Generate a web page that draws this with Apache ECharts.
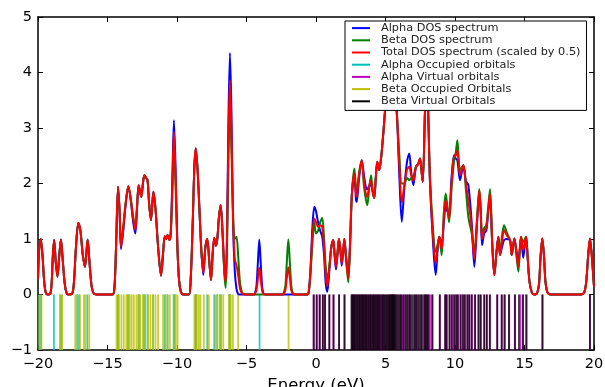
<!DOCTYPE html>
<html><head><meta charset="utf-8">
<script src="https://cdn.jsdelivr.net/npm/echarts@6/dist/echarts.min.js"></script>
<style>html,body{margin:0;padding:0;background:#fff}#c{width:605px;height:387px}</style>
</head><body><div id="c"></div><script>
const xTicks = [-20, -15, -10, -5, 0, 5, 10, 15, 20];
const yTicks = [-1, 0, 1, 2, 3, 4, 5];
const xLabel = 'Energy (eV)';
const seriesNames = ['Alpha DOS spectrum', 'Beta DOS spectrum', 'Total DOS spectrum (scaled by 0.5)',
  'Alpha Occupied orbitals', 'Alpha Virtual orbitals', 'Beta Occupied Orbitals', 'Beta Virtual Orbitals'];

const totalDOS = [[-20.0,0.28],[-19.92,0.8],[-19.8,1.0],[-19.68,0.72],[-19.56,0.25],[-19.45,0.04],[-19.3,0.0],[-19.12,0.01],[-19.02,0.2],[-18.93,0.7],[-18.84,0.98],[-18.72,0.58],[-18.6,0.32],[-18.47,0.7],[-18.35,0.99],[-18.22,0.62],[-18.08,0.2],[-17.95,0.03],[-17.8,0.0],[-17.55,0.01],[-17.42,0.2],[-17.27,0.85],[-17.1,1.29],[-16.95,1.15],[-16.78,0.72],[-16.62,0.5],[-16.43,0.99],[-16.3,0.6],[-16.15,0.16],[-16.0,0.02],[-15.8,0.0],[-14.65,0.0],[-14.5,0.12],[-14.38,0.9],[-14.24,1.94],[-14.13,1.5],[-14.03,0.86],[-13.88,1.15],[-13.7,1.62],[-13.5,1.95],[-13.33,1.72],[-13.15,1.35],[-13.0,1.16],[-12.88,1.55],[-12.76,1.97],[-12.66,1.85],[-12.57,1.76],[-12.45,2.0],[-12.35,2.15],[-12.22,2.1],[-12.12,2.06],[-12.0,1.62],[-11.87,1.34],[-11.7,1.85],[-11.55,1.55],[-11.35,0.82],[-11.15,0.34],[-11.0,0.75],[-10.88,1.05],[-10.78,1.0],[-10.68,1.07],[-10.55,0.98],[-10.45,1.1],[-10.33,2.0],[-10.22,2.93],[-10.1,2.1],[-9.97,0.85],[-9.85,0.25],[-9.73,0.06],[-9.55,0.0],[-9.15,0.0],[-9.02,0.25],[-8.88,1.2],[-8.75,2.3],[-8.65,2.63],[-8.52,2.25],[-8.38,1.5],[-8.25,0.8],[-8.11,0.39],[-7.96,0.85],[-7.82,1.0],[-7.68,0.6],[-7.55,0.26],[-7.43,0.75],[-7.32,1.02],[-7.2,0.88],[-7.1,1.0],[-6.98,1.4],[-6.86,1.61],[-6.74,1.2],[-6.6,0.45],[-6.5,0.22],[-6.4,1.0],[-6.3,2.8],[-6.19,3.86],[-6.08,2.9],[-5.97,1.4],[-5.85,0.65],[-5.72,0.52],[-5.6,0.35],[-5.48,0.12],[-5.35,0.03],[-5.2,0.0],[-4.45,0.0],[-4.36,0.03],[-4.28,0.08],[-4.18,0.28],[-4.08,0.48],[-3.98,0.28],[-3.88,0.08],[-3.78,0.01],[-3.6,0.0],[-2.4,0.0],[-2.3,0.02],[-2.2,0.08],[-2.1,0.3],[-1.99,0.49],[-1.88,0.3],[-1.78,0.08],[-1.68,0.02],[-1.55,0.0],[-0.62,0.0],[-0.52,0.05],[-0.4,0.4],[-0.25,1.1],[-0.12,1.37],[0.0,1.3],[0.15,1.22],[0.3,1.25],[0.45,1.22],[0.58,0.85],[0.7,0.35],[0.81,0.15],[0.95,0.45],[1.1,0.85],[1.24,0.98],[1.34,0.72],[1.44,0.5],[1.55,0.75],[1.65,1.0],[1.75,0.82],[1.85,0.56],[1.95,0.75],[2.04,1.0],[2.15,0.7],[2.32,0.29],[2.45,0.9],[2.58,1.8],[2.76,2.18],[2.88,1.8],[2.93,1.76],[3.1,2.15],[3.29,2.42],[3.45,2.05],[3.6,1.8],[3.69,1.76],[3.82,1.95],[3.96,2.06],[4.08,1.85],[4.19,1.74],[4.3,2.1],[4.41,2.39],[4.55,2.24],[4.7,2.5],[4.84,2.9],[5.09,3.68],[5.4,4.3],[5.6,3.9],[5.81,3.29],[6.0,2.3],[6.17,1.66],[6.35,1.95],[6.55,2.25],[6.71,2.3],[6.85,2.15],[7.0,2.05],[7.19,2.3],[7.35,2.35],[7.48,2.45],[7.6,2.2],[7.68,2.03],[7.84,3.29],[7.95,4.1],[8.08,3.2],[8.2,2.06],[8.44,0.98],[8.61,0.56],[8.75,0.85],[8.87,1.04],[9.04,0.82],[9.2,1.4],[9.33,1.7],[9.45,1.55],[9.57,1.37],[9.75,2.0],[9.93,2.5],[10.05,2.5],[10.17,2.6],[10.36,2.15],[10.6,2.33],[10.78,2.0],[10.96,1.7],[11.2,1.2],[11.39,0.64],[11.58,1.3],[11.75,1.88],[11.85,1.5],[11.95,1.0],[12.1,1.15],[12.25,1.2],[12.38,1.5],[12.52,1.82],[12.68,0.9],[12.83,0.35],[12.98,0.75],[13.12,1.04],[13.24,0.71],[13.38,0.95],[13.53,1.16],[13.72,1.07],[13.96,0.98],[14.08,0.71],[14.27,1.01],[14.42,0.75],[14.56,0.5],[14.75,1.04],[14.91,0.8],[15.11,1.04],[15.22,0.7],[15.35,0.25],[15.52,0.04],[15.7,0.0],[15.85,0.01],[15.95,0.06],[16.05,0.2],[16.16,0.7],[16.28,1.01],[16.4,0.7],[16.5,0.25],[16.62,0.06],[16.75,0.01],[16.9,0.0],[19.1,0.0],[19.25,0.02],[19.35,0.08],[19.45,0.25],[19.58,0.7],[19.71,1.01],[19.84,0.7],[20.0,0.14]];

const alphaDOS = [[-20.0,0.28],[-19.92,0.8],[-19.8,1.0],[-19.68,0.72],[-19.56,0.25],[-19.45,0.04],[-19.3,0.0],[-19.12,0.01],[-19.02,0.2],[-18.93,0.7],[-18.84,0.98],[-18.72,0.58],[-18.6,0.32],[-18.47,0.7],[-18.35,0.99],[-18.22,0.62],[-18.08,0.2],[-17.95,0.03],[-17.8,0.0],[-17.55,0.01],[-17.42,0.2],[-17.27,0.85],[-17.1,1.29],[-16.95,1.15],[-16.78,0.72],[-16.62,0.5],[-16.43,0.99],[-16.3,0.6],[-16.15,0.16],[-16.0,0.02],[-15.8,0.0],[-14.65,0.0],[-14.5,0.12],[-14.38,0.9],[-14.24,1.94],[-14.13,1.48],[-14.03,0.82],[-13.88,1.12],[-13.7,1.6],[-13.5,1.95],[-13.33,1.7],[-13.15,1.3],[-13.0,1.1],[-12.88,1.52],[-12.76,1.97],[-12.66,1.85],[-12.57,1.76],[-12.45,2.0],[-12.35,2.15],[-12.22,2.1],[-12.12,2.06],[-12.0,1.62],[-11.87,1.34],[-11.7,1.85],[-11.55,1.55],[-11.35,0.82],[-11.15,0.34],[-11.0,0.75],[-10.88,1.05],[-10.78,1.0],[-10.68,1.07],[-10.55,0.98],[-10.45,1.12],[-10.33,2.15],[-10.22,3.14],[-10.1,2.25],[-9.97,0.88],[-9.85,0.25],[-9.73,0.06],[-9.55,0.0],[-9.15,0.0],[-9.02,0.25],[-8.88,1.2],[-8.75,2.3],[-8.65,2.63],[-8.52,2.25],[-8.38,1.5],[-8.25,0.78],[-8.11,0.35],[-7.96,0.85],[-7.82,1.0],[-7.68,0.6],[-7.55,0.26],[-7.43,0.75],[-7.32,1.02],[-7.2,0.88],[-7.1,1.0],[-6.98,1.4],[-6.86,1.61],[-6.74,1.22],[-6.6,0.5],[-6.5,0.28],[-6.4,1.15],[-6.3,3.15],[-6.19,4.35],[-6.08,3.25],[-5.97,1.3],[-5.85,0.45],[-5.72,0.1],[-5.6,0.01],[-5.48,0.0],[-5.35,0.0],[-5.2,0.0],[-4.45,0.0],[-4.36,0.05],[-4.28,0.16],[-4.18,0.58],[-4.08,0.99],[-3.98,0.58],[-3.88,0.16],[-3.78,0.02],[-3.6,0.0],[-2.4,0.0],[-1.55,0.0],[-0.62,0.0],[-0.52,0.06],[-0.4,0.45],[-0.25,1.25],[-0.12,1.58],[0.0,1.5],[0.15,1.3],[0.3,1.15],[0.45,1.04],[0.58,0.7],[0.7,0.2],[0.81,0.05],[0.95,0.4],[1.1,0.85],[1.24,0.98],[1.34,0.7],[1.44,0.45],[1.55,0.72],[1.65,1.0],[1.75,0.8],[1.85,0.52],[1.95,0.75],[2.04,1.0],[2.15,0.72],[2.32,0.35],[2.45,0.95],[2.58,1.8],[2.76,2.12],[2.88,1.7],[2.93,1.67],[3.1,2.1],[3.29,2.42],[3.45,2.15],[3.6,1.92],[3.69,1.9],[3.82,1.95],[3.96,1.97],[4.08,1.85],[4.19,1.74],[4.3,2.1],[4.41,2.39],[4.55,2.24],[4.7,2.5],[4.84,2.9],[5.09,3.68],[5.4,4.3],[5.6,3.9],[5.81,3.29],[6.0,2.1],[6.17,1.31],[6.35,1.9],[6.55,2.4],[6.71,2.54],[6.85,2.2],[7.0,1.97],[7.19,2.3],[7.35,2.35],[7.48,2.45],[7.6,2.2],[7.68,2.03],[7.84,3.29],[7.95,4.1],[8.08,3.2],[8.2,2.0],[8.44,0.85],[8.61,0.35],[8.75,0.8],[8.87,1.04],[9.04,0.93],[9.2,1.3],[9.33,1.58],[9.45,1.5],[9.57,1.45],[9.75,2.1],[9.93,2.51],[10.05,2.45],[10.17,2.42],[10.36,2.06],[10.6,2.33],[10.78,2.05],[10.96,1.97],[11.2,1.3],[11.39,0.5],[11.58,1.25],[11.75,1.85],[11.85,1.45],[11.95,0.89],[12.1,1.1],[12.25,1.15],[12.38,1.45],[12.52,1.75],[12.68,0.9],[12.83,0.35],[12.98,0.75],[13.12,1.04],[13.24,0.71],[13.38,0.85],[13.53,0.98],[13.72,1.0],[13.96,0.98],[14.08,0.71],[14.27,1.01],[14.42,0.8],[14.56,0.6],[14.75,1.04],[14.91,0.66],[15.11,1.04],[15.22,0.7],[15.35,0.25],[15.52,0.04],[15.7,0.0],[15.85,0.01],[15.95,0.06],[16.05,0.2],[16.16,0.7],[16.28,1.01],[16.4,0.7],[16.5,0.25],[16.62,0.06],[16.75,0.01],[16.9,0.0],[19.1,0.0],[19.25,0.02],[19.35,0.08],[19.45,0.25],[19.58,0.7],[19.71,1.01],[19.84,0.7],[20.0,0.14]];

const betaDOS = [[-20.0,0.28],[-19.92,0.8],[-19.8,1.0],[-19.68,0.72],[-19.56,0.25],[-19.45,0.04],[-19.3,0.0],[-19.12,0.01],[-19.02,0.2],[-18.93,0.7],[-18.84,0.98],[-18.72,0.58],[-18.6,0.32],[-18.47,0.7],[-18.35,0.99],[-18.22,0.62],[-18.08,0.2],[-17.95,0.03],[-17.8,0.0],[-17.55,0.01],[-17.42,0.2],[-17.27,0.85],[-17.1,1.29],[-16.95,1.15],[-16.78,0.72],[-16.62,0.5],[-16.43,0.99],[-16.3,0.6],[-16.15,0.16],[-16.0,0.02],[-15.8,0.0],[-14.65,0.0],[-14.5,0.12],[-14.38,0.9],[-14.24,1.94],[-14.13,1.52],[-14.03,0.9],[-13.88,1.18],[-13.7,1.64],[-13.5,1.95],[-13.33,1.74],[-13.15,1.4],[-13.0,1.22],[-12.88,1.58],[-12.76,1.97],[-12.66,1.85],[-12.57,1.76],[-12.45,2.0],[-12.35,2.15],[-12.22,2.1],[-12.12,2.06],[-12.0,1.62],[-11.87,1.34],[-11.7,1.85],[-11.55,1.55],[-11.35,0.82],[-11.15,0.34],[-11.0,0.75],[-10.88,1.05],[-10.78,1.0],[-10.68,1.07],[-10.55,0.98],[-10.45,1.08],[-10.33,1.85],[-10.22,2.72],[-10.1,1.95],[-9.97,0.82],[-9.85,0.25],[-9.73,0.06],[-9.55,0.0],[-9.15,0.0],[-9.02,0.25],[-8.88,1.2],[-8.75,2.3],[-8.65,2.63],[-8.52,2.25],[-8.38,1.5],[-8.25,0.82],[-8.11,0.43],[-7.96,0.85],[-7.82,1.0],[-7.68,0.6],[-7.55,0.26],[-7.43,0.75],[-7.32,1.02],[-7.2,0.88],[-7.1,1.0],[-6.98,1.4],[-6.86,1.61],[-6.74,1.18],[-6.6,0.4],[-6.5,0.12],[-6.4,0.85],[-6.3,2.45],[-6.19,3.37],[-6.08,2.55],[-5.97,1.5],[-5.85,1.0],[-5.72,1.04],[-5.6,0.7],[-5.48,0.25],[-5.35,0.06],[-5.2,0.01],[-4.45,0.0],[-3.6,0.0],[-2.4,0.0],[-2.3,0.05],[-2.2,0.16],[-2.1,0.58],[-1.99,0.99],[-1.88,0.58],[-1.78,0.16],[-1.68,0.03],[-1.55,0.0],[-0.62,0.0],[-0.52,0.04],[-0.4,0.35],[-0.25,0.95],[-0.12,1.29],[0.0,1.1],[0.15,1.15],[0.3,1.3],[0.45,1.38],[0.58,1.0],[0.7,0.5],[0.81,0.25],[0.95,0.5],[1.1,0.85],[1.24,0.98],[1.34,0.74],[1.44,0.55],[1.55,0.78],[1.65,1.0],[1.75,0.84],[1.85,0.6],[1.95,0.75],[2.04,1.0],[2.15,0.68],[2.32,0.22],[2.45,0.85],[2.58,1.8],[2.76,2.27],[2.88,1.9],[2.93,1.85],[3.1,2.2],[3.29,2.42],[3.45,1.95],[3.6,1.7],[3.69,1.61],[3.82,1.9],[3.96,2.15],[4.08,1.85],[4.19,1.74],[4.3,2.1],[4.41,2.39],[4.55,2.24],[4.7,2.5],[4.84,2.9],[5.09,3.68],[5.4,4.3],[5.6,3.9],[5.81,3.29],[6.0,2.5],[6.17,2.0],[6.35,2.0],[6.55,2.1],[6.71,2.06],[6.85,2.1],[7.0,2.13],[7.19,2.3],[7.35,2.35],[7.48,2.45],[7.6,2.2],[7.68,2.03],[7.84,3.29],[7.95,4.1],[8.08,3.2],[8.2,2.12],[8.44,1.1],[8.61,0.77],[8.75,0.9],[8.87,1.04],[9.04,0.71],[9.2,1.5],[9.33,1.82],[9.45,1.6],[9.57,1.3],[9.75,1.9],[9.93,2.4],[10.05,2.55],[10.17,2.78],[10.36,2.24],[10.6,2.33],[10.78,1.9],[10.96,1.4],[11.2,1.1],[11.39,0.78],[11.58,1.35],[11.75,1.9],[11.85,1.55],[11.95,1.1],[12.1,1.2],[12.25,1.25],[12.38,1.55],[12.52,1.9],[12.68,0.9],[12.83,0.35],[12.98,0.75],[13.12,1.04],[13.24,0.71],[13.38,1.05],[13.53,1.25],[13.72,1.12],[13.96,0.98],[14.08,0.71],[14.27,1.01],[14.42,0.7],[14.56,0.41],[14.75,1.04],[14.91,0.95],[15.11,1.04],[15.22,0.7],[15.35,0.25],[15.52,0.04],[15.7,0.0],[15.85,0.01],[15.95,0.06],[16.05,0.2],[16.16,0.7],[16.28,1.01],[16.4,0.7],[16.5,0.25],[16.62,0.06],[16.75,0.01],[16.9,0.0],[19.1,0.0],[19.25,0.02],[19.35,0.08],[19.45,0.25],[19.58,0.7],[19.71,1.01],[19.84,0.7],[20.0,0.14]];

const alphaOccupied = [-19.9, -19.78, -18.85, -18.4, -18.3, -17.18, -17.05, -16.45, -14.26, -14.2, -13.55, -13.48, -12.78, -12.72, -12.4, -12.3, -12.12, -11.72, -10.88, -10.68, -10.24, -10.2, -10.18, -8.68, -8.62, -8.6, -7.82, -7.32, -7.1, -6.9, -6.84, -6.22, -6.2, -6.18, -6.16, -4.06];
const betaOccupied = [-19.9, -19.75, -18.4, -18.27, -17.32, -17.17, -16.98, -16.69, -16.6, -16.31, -14.35, -14.2, -14.0, -13.83, -13.64, -13.52, -13.4, -13.26, -13.11, -12.92, -12.73, -12.63, -12.44, -12.3, -12.08, -11.91, -11.72, -11.55, -11.36, -11.0, -10.83, -10.69, -10.52, -10.23, -10.09, -9.96, -8.75, -8.6, -8.43, -8.31, -8.07, -7.71, -7.23, -7.1, -6.86, -6.67, -6.27, -6.15, -5.98, -5.6, -1.97];
const alphaVirtual = [-0.19, 0.05, 0.24, 0.48, 0.65, 0.96, 1.26, 1.66, 2.05, 2.6, 2.68, 2.75, 2.9, 3.0, 3.15, 3.25, 3.35, 3.5, 3.6, 3.75, 3.85, 3.95, 4.1, 4.2, 4.3, 4.45, 4.55, 4.65, 4.78, 4.88, 5.0, 5.12, 5.25, 5.35, 5.42, 5.5, 5.6, 5.72, 5.85, 6.0, 6.12, 6.25, 6.4, 6.6, 6.72, 6.85, 7.05, 7.2, 7.3, 7.45, 7.6, 7.75, 7.85, 7.95, 8.05, 8.2, 8.4, 8.92, 9.28, 9.4, 9.62, 9.8, 9.93, 10.07, 10.24, 10.41, 10.55, 10.72, 10.88, 11.05, 11.22, 11.43, 11.68, 11.85, 12.11, 12.3, 12.52, 13.04, 13.36, 13.6, 13.9, 14.3, 14.7, 14.87, 15.16, 16.31, 19.71];
const betaVirtual = [-0.15, 0.05, 0.28, 0.5, 0.65, 0.96, 1.26, 1.66, 2.05, 2.55, 2.62, 2.7, 2.78, 2.85, 2.95, 3.05, 3.12, 3.2, 3.3, 3.38, 3.45, 3.55, 3.62, 3.7, 3.8, 3.9, 3.98, 4.08, 4.15, 4.25, 4.35, 4.42, 4.5, 4.6, 4.72, 4.8, 4.9, 5.0, 5.1, 5.2, 5.28, 5.35, 5.45, 5.5, 5.55, 5.62, 5.7, 5.8, 5.92, 6.05, 6.15, 6.3, 6.45, 6.55, 6.7, 6.8, 6.95, 7.1, 7.2, 7.35, 7.5, 7.62, 7.8, 7.9, 8.0, 8.1, 8.35, 8.9, 9.3, 9.4, 9.6, 9.76, 9.95, 10.1, 10.2, 10.4, 10.58, 10.7, 10.9, 11.02, 11.2, 11.45, 11.7, 11.85, 12.1, 12.28, 12.5, 13.04, 13.36, 13.55, 13.88, 14.32, 14.6, 14.9, 15.12, 16.28, 19.71];

const chart = echarts.init(document.getElementById('c'), null, {renderer: 'canvas'});
const FONT = 'DejaVu Sans';
const fmt = v => String(v).replace('-', '\u2212');

function dosSeries(name, data, color) {
  return { name, type: 'line', data, color, showSymbol: false, symbol: 'none', smooth: 0.3,
    lineStyle: { color, width: 2 }, xAxisIndex: 0, yAxisIndex: 0, animation: false };
}
function orbSeries(name, energies, color, opacity) {
  return { name, type: 'custom', color, itemStyle: { color }, xAxisIndex: 0, yAxisIndex: 0, animation: false,
    data: energies.map(e => [e, -1]), encode: { x: 0, y: 1 }, clip: true,
    renderItem: function (params, api) {
      const x = api.value(0);
      const p1 = api.coord([x, -1]);
      const p2 = api.coord([x, 0]);
      return { type: 'line', shape: { x1: p1[0], y1: p1[1], x2: p2[0], y2: p2[1] },
        style: { stroke: color, lineWidth: 1.8, opacity } };
    } };
}
const axisCommon = {
  type: 'value', axisLine: { show: true, onZero: false, lineStyle: { color: '#000', width: 1.5 } },
  axisTick: { show: true, inside: true, length: 5, lineStyle: { color: '#000', width: 1 } },
  splitLine: { show: false }
};
chart.setOption({
  backgroundColor: '#fff',
  animation: false,
  grid: { left: 38, right: 11, top: 17, bottom: 37, containLabel: false, outerBoundsMode: 'none' },
  xAxis: [
    Object.assign({}, axisCommon, { position: 'bottom', min: xTicks[0], max: xTicks[xTicks.length - 1], interval: 5,
      axisLabel: { show: true, margin: 7, color: '#000', fontFamily: FONT, fontSize: 14.5, formatter: fmt },
      name: xLabel, nameLocation: 'middle', nameGap: 26,
      nameTextStyle: { color: '#000', fontFamily: FONT, fontSize: 16.5 } }),
    Object.assign({}, axisCommon, { position: 'top', min: xTicks[0], max: xTicks[xTicks.length - 1], interval: 5,
      axisLabel: { show: false } })
  ],
  yAxis: [
    Object.assign({}, axisCommon, { position: 'left', min: yTicks[0], max: yTicks[yTicks.length - 1], interval: 1,
      axisLabel: { show: true, margin: 6, color: '#000', fontFamily: FONT, fontSize: 14.5, formatter: fmt } }),
    Object.assign({}, axisCommon, { position: 'right', min: yTicks[0], max: yTicks[yTicks.length - 1], interval: 1,
      axisLabel: { show: false } })
  ],
  legend: {
    data: seriesNames, orient: 'vertical', left: 345, top: 21,
    backgroundColor: '#fff', borderColor: '#000', borderWidth: 1, borderRadius: 0,
    padding: [1, 6, 3, 7], itemGap: 0, itemWidth: 18, itemHeight: 2, icon: 'rect',
    textStyle: { fontFamily: FONT, fontSize: 11.3, color: '#222', lineHeight: 12.2, padding: [0, 0, 0, 6] },
    z: 10
  },
  series: [
    dosSeries(seriesNames[0], alphaDOS, '#0000ff'),
    dosSeries(seriesNames[1], betaDOS, '#008000'),
    dosSeries(seriesNames[2], totalDOS, '#ff0000'),
    orbSeries(seriesNames[3], alphaOccupied, '#00bfbf', 0.8),
    orbSeries(seriesNames[4], alphaVirtual, '#bf00bf', 0.8),
    orbSeries(seriesNames[5], betaOccupied, '#bfbf00', 0.8),
    orbSeries(seriesNames[6], betaVirtual, '#000000', 0.75)
  ]
});
</script></body></html>
